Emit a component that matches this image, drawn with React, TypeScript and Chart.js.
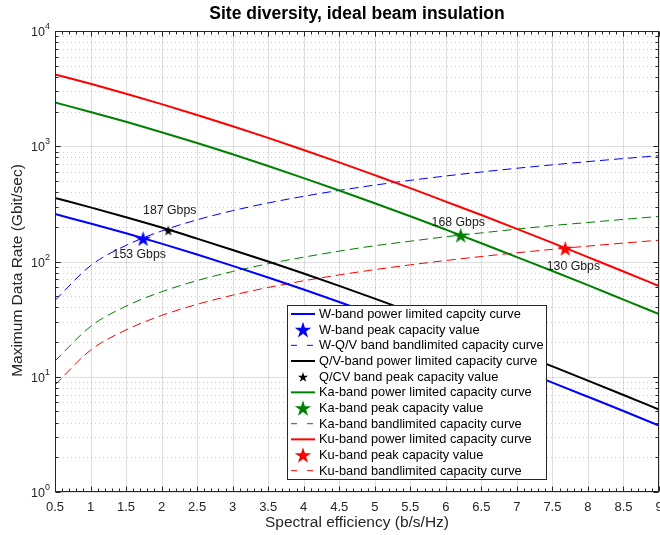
import { useEffect, useRef } from "react";
import { Chart, registerables } from "chart.js";

Chart.register(...registerables);

// ---------- data ----------
const spectralEfficiency = [0.5, 1, 1.5, 2, 2.5, 3, 3.5, 4, 4.5, 5, 5.5, 6, 6.5, 7, 7.5, 8, 8.5, 9];

const wBandPower = [258, 214, 176, 143, 115, 91.7, 72.6, 57.1, 44.5, 34.5, 26.6, 20.4, 15.5, 11.8, 8.9, 6.7, 5.04, 3.77];
const qvBandPower = [356, 295, 242, 197, 158, 126, 100, 78.7, 61.4, 47.6, 36.7, 28.1, 21.4, 16.3, 12.3, 9.25, 6.94, 5.2];
const kaBandPower = [2396, 1985, 1629, 1323, 1066, 851, 673, 529, 413, 320, 247, 189, 144, 109, 82.7, 62.3, 46.7, 35.0];
const kuBandPower = [4200, 3480, 2855, 2320, 1868, 1492, 1181, 928, 724, 561, 433, 331, 253, 192, 145, 109, 81.9, 61.3];

const wqvBandLimited = [46, 92, 138, 184, 230, 276, 322, 368, 414, 460, 506, 552, 598, 644, 690, 736, 782, 828];
const kaBandLimited = [13.7, 27.3, 41, 54.6, 68.3, 81.9, 95.6, 109, 123, 137, 150, 164, 177, 191, 205, 218, 232, 246];
const kuBandLimited = [8.5, 17, 25.5, 34, 42.5, 51, 59.5, 68, 76.5, 85, 93.5, 102, 110.5, 119, 127.5, 136, 144.5, 153];

// peak capacity points: W, Q/V, Ka, Ku
const peakEfficiency = [1.74, 2.095, 6.21, 7.68];
const peakRate = [158, 186, 169, 130];
const peakLabels = ["153 Gbps", "187 Gbps", "168 Gbps", "130 Gbps"];
const peakLabelEfficiency = [1.31, 1.74, 5.8, 7.42];
const peakLabelRate = [114, 274, 217, 90];

const xTickValues = [0.5, 1, 1.5, 2, 2.5, 3, 3.5, 4, 4.5, 5, 5.5, 6, 6.5, 7, 7.5, 8, 8.5, 9];
const xTickLabels = ["0.5", "1", "1.5", "2", "2.5", "3", "3.5", "4", "4.5", "5", "5.5", "6", "6.5", "7", "7.5", "8", "8.5", "9"];
const yTickValues = [1, 10, 100, 1000, 10000];
const yTickExponents = ["0", "1", "2", "3", "4"];

const legendLabels = [
  "W-band power limited capcity curve",
  "W-band peak capacity value",
  "W-Q/V band bandlimited capacity curve",
  "Q/V-band power limited capacity curve",
  "Q/CV band peak capacity value",
  "Ka-band power limited capacity curve",
  "Ka-band peak capacity value",
  "Ka-band bandlimited capacity curve",
  "Ku-band power limited capacity curve",
  "Ku-band peak capacity value",
  "Ku-band bandlimited capacity curve",
];

// ---------- styles ----------
const BLUE = "#0000ff";
const BLACK = "#000000";
const GREEN = "#008000";
const RED = "#ff0000";
const AXIS = "#262626";
const FONT = '"Liberation Sans", Arial, Helvetica, sans-serif';

const legendKinds: { kind: "solid" | "dash" | "star"; color: string; r?: number }[] = [
  { kind: "solid", color: BLUE },
  { kind: "star", color: BLUE, r: 8.6 },
  { kind: "dash", color: BLUE },
  { kind: "solid", color: BLACK },
  { kind: "star", color: BLACK, r: 5.4 },
  { kind: "solid", color: GREEN },
  { kind: "star", color: GREEN, r: 8.6 },
  { kind: "dash", color: GREEN },
  { kind: "solid", color: RED },
  { kind: "star", color: RED, r: 8.6 },
  { kind: "dash", color: RED },
];

function drawStar(ctx: CanvasRenderingContext2D, cx: number, cy: number, R: number, color: string) {
  const r = R * 0.382;
  ctx.beginPath();
  for (let i = 0; i < 10; i++) {
    const ang = -Math.PI / 2 + (i * Math.PI) / 5;
    const rad = i % 2 === 0 ? R : r;
    const px = cx + rad * Math.cos(ang);
    const py = cy + rad * Math.sin(ang);
    if (i === 0) ctx.moveTo(px, py);
    else ctx.lineTo(px, py);
  }
  ctx.closePath();
  ctx.fillStyle = color;
  ctx.fill();
}

function makeStar(color: string, R: number) {
  const size = Math.ceil(2 * R + 2);
  const c = document.createElement("canvas");
  c.width = size;
  c.height = size;
  const ctx = c.getContext("2d")!;
  drawStar(ctx, size / 2, size / 2 + R * 0.1, R, color);
  return c;
}

function pts(values: number[]) {
  return values.map((v, i) => ({ x: spectralEfficiency[i], y: v }));
}

const matlabPlugin = {
  id: "matlabLook",
  beforeDatasetsDraw(chart: any) {
    const { ctx, chartArea: a, scales } = chart;
    const x = scales.x;
    const y = scales.y;
    ctx.save();
    ctx.fillStyle = "#ffffff";
    ctx.fillRect(a.left, a.top, a.right - a.left, a.bottom - a.top);
    ctx.lineWidth = 1;
    // minor dotted horizontal grid
    ctx.strokeStyle = "rgba(38,38,38,0.22)";
    ctx.setLineDash([1, 3]);
    for (let k = 0; k < 4; k++) {
      for (let m = 2; m <= 9; m++) {
        const py = Math.round(y.getPixelForValue(m * Math.pow(10, k))) + 0.5;
        ctx.beginPath();
        ctx.moveTo(a.left, py);
        ctx.lineTo(a.right, py);
        ctx.stroke();
      }
    }
    ctx.setLineDash([]);
    ctx.strokeStyle = "rgba(38,38,38,0.15)";
    for (const t of xTickValues) {
      const px = Math.round(x.getPixelForValue(t)) + 0.5;
      ctx.beginPath();
      ctx.moveTo(px, a.top);
      ctx.lineTo(px, a.bottom);
      ctx.stroke();
    }
    for (const t of yTickValues) {
      const py = Math.round(y.getPixelForValue(t)) + 0.5;
      ctx.beginPath();
      ctx.moveTo(a.left, py);
      ctx.lineTo(a.right, py);
      ctx.stroke();
    }
    ctx.restore();
  },
  afterDraw(chart: any) {
    const { ctx, chartArea: a, scales } = chart;
    const x = scales.x;
    const y = scales.y;
    ctx.save();

    // peak annotations
    ctx.font = `12.3px ${FONT}`;
    ctx.fillStyle = "#1a1a1a";
    ctx.textAlign = "left";
    ctx.textBaseline = "middle";
    peakLabels.forEach((lab, i) => {
      ctx.fillText(lab, x.getPixelForValue(peakLabelEfficiency[i]), y.getPixelForValue(peakLabelRate[i]));
    });

    // axes box
    const L = a.left + 0.5;
    const R = Math.round(a.right) - 0.5;
    const T = a.top + 0.5;
    const B = a.bottom - 0.5;
    ctx.strokeStyle = AXIS;
    ctx.lineWidth = 1;
    ctx.strokeRect(L, T, R - L, B - T);

    // x ticks
    ctx.beginPath();
    for (let i = 0; i <= 85; i++) {
      const v = 0.5 + i * 0.1;
      const px = Math.round(x.getPixelForValue(v)) + 0.5;
      const len = i % 5 === 0 ? 5 : 3;
      ctx.moveTo(px, B);
      ctx.lineTo(px, B - len);
      ctx.moveTo(px, T);
      ctx.lineTo(px, T + len);
    }
    // y ticks
    for (let k = 0; k < 4; k++) {
      for (let m = 1; m <= 10; m++) {
        const py = Math.round(y.getPixelForValue(m * Math.pow(10, k))) + 0.5;
        const len = m === 1 || m === 10 ? 5 : 3;
        ctx.moveTo(L, py);
        ctx.lineTo(L + len, py);
        ctx.moveTo(R, py);
        ctx.lineTo(R - len, py);
      }
    }
    ctx.stroke();

    // x tick labels
    ctx.fillStyle = AXIS;
    ctx.font = `13px ${FONT}`;
    ctx.textAlign = "center";
    ctx.textBaseline = "middle";
    xTickValues.forEach((v, i) => {
      ctx.fillText(xTickLabels[i], x.getPixelForValue(v), a.bottom + 15);
    });

    // y tick labels (10^n)
    yTickValues.forEach((v, i) => {
      const py = y.getPixelForValue(v);
      ctx.font = `9px ${FONT}`;
      const sw = ctx.measureText(yTickExponents[i]).width;
      ctx.textAlign = "left";
      ctx.textBaseline = "alphabetic";
      const right = a.left - 5;
      ctx.fillText(yTickExponents[i], right - sw, py - 2);
      ctx.font = `12.5px ${FONT}`;
      ctx.textAlign = "right";
      ctx.fillText("10", right - sw, py + 5);
    });

    // axis titles
    ctx.font = `15.5px ${FONT}`;
    ctx.textAlign = "center";
    ctx.textBaseline = "middle";
    ctx.fillText("Spectral efficiency (b/s/Hz)", (a.left + a.right) / 2, 523);
    ctx.save();
    ctx.translate(18, (a.top + a.bottom) / 2 + 9);
    ctx.rotate(-Math.PI / 2);
    ctx.fillText("Maximum Data Rate (Gbit/sec)", 0, 0);
    ctx.restore();

    // title
    ctx.fillStyle = "#000";
    ctx.font = `bold 17.5px ${FONT}`;
    ctx.fillText("Site diversity, ideal beam insulation", (a.left + a.right) / 2, 14);

    // legend
    const lx = 287.5;
    const ly = 305.5;
    const lw = 259;
    const lh = 174;
    ctx.fillStyle = "#ffffff";
    ctx.fillRect(lx, ly, lw, lh);
    ctx.strokeStyle = AXIS;
    ctx.lineWidth = 1;
    ctx.strokeRect(lx, ly, lw, lh);
    ctx.font = `12.8px ${FONT}`;
    ctx.textAlign = "left";
    ctx.textBaseline = "middle";
    legendLabels.forEach((lab, i) => {
      const cy = 314 + i * 15.67;
      const it = legendKinds[i];
      if (it.kind === "star") {
        drawStar(ctx, 303, cy + 0.8, it.r!, it.color);
      } else {
        ctx.beginPath();
        ctx.strokeStyle = it.color;
        ctx.lineWidth = it.kind === "solid" ? 2 : 1;
        ctx.setLineDash(it.kind === "dash" ? [6, 10] : []);
        ctx.moveTo(291, cy);
        ctx.lineTo(315, cy);
        ctx.stroke();
        ctx.setLineDash([]);
      }
      ctx.fillStyle = "#000";
      ctx.fillText(lab, 319, cy + 0.5);
    });

    ctx.restore();
  },
};

export default function App() {
  const ref = useRef<HTMLCanvasElement | null>(null);

  useEffect(() => {
    if (!ref.current) return;
    const bigBlue = makeStar(BLUE, 8.3);
    const smallBlack = makeStar(BLACK, 5.6);
    const bigGreen = makeStar(GREEN, 8.3);
    const bigRed = makeStar(RED, 8.3);
    const starImgs = [bigBlue, smallBlack, bigGreen, bigRed];

    const solid = (label: string, data: number[], color: string) => ({
      type: "line" as const,
      label,
      data: pts(data),
      borderColor: color,
      borderWidth: 2,
      pointRadius: 0,
      fill: false,
      cubicInterpolationMode: "monotone" as const,
      order: 2,
    });
    const dashed = (label: string, data: number[], color: string) => ({
      type: "line" as const,
      label,
      data: pts(data),
      borderColor: color,
      borderWidth: 1,
      borderDash: [9, 5],
      pointRadius: 0,
      fill: false,
      cubicInterpolationMode: "monotone" as const,
      order: 3,
    });
    const peaks = peakEfficiency.map((e, i) => ({
      type: "scatter" as const,
      label: legendLabels[[1, 4, 6, 9][i]],
      data: [{ x: e, y: peakRate[i] }],
      pointStyle: starImgs[i],
      pointRadius: 9,
      showLine: false,
      order: 0,
    }));

    const chart = new Chart(ref.current, {
      type: "line",
      data: {
        datasets: [
          ...peaks,
          solid(legendLabels[0], wBandPower, BLUE),
          dashed(legendLabels[2], wqvBandLimited, BLUE),
          solid(legendLabels[3], qvBandPower, BLACK),
          solid(legendLabels[5], kaBandPower, GREEN),
          dashed(legendLabels[7], kaBandLimited, GREEN),
          solid(legendLabels[8], kuBandPower, RED),
          dashed(legendLabels[10], kuBandLimited, RED),
        ] as any,
      },
      options: {
        responsive: false,
        animation: false,
        devicePixelRatio: 1,
        layout: { autoPadding: false, padding: { left: 55, top: 31, right: 1, bottom: 43 } },
        plugins: {
          legend: { display: false },
          title: { display: false },
          tooltip: { enabled: false },
        },
        scales: {
          x: { type: "linear", min: 0.5, max: 9, display: false },
          y: { type: "logarithmic", min: 1, max: 10000, display: false },
        },
      },
      plugins: [matlabPlugin as any],
    });
    return () => chart.destroy();
  }, []);

  return (
    <div style={{ position: "fixed", left: 0, top: 0, width: 660, height: 535, background: "#fff", overflow: "hidden" }}>
      <canvas ref={ref} width={660} height={535} style={{ display: "block", width: 660, height: 535 }} />
    </div>
  );
}
